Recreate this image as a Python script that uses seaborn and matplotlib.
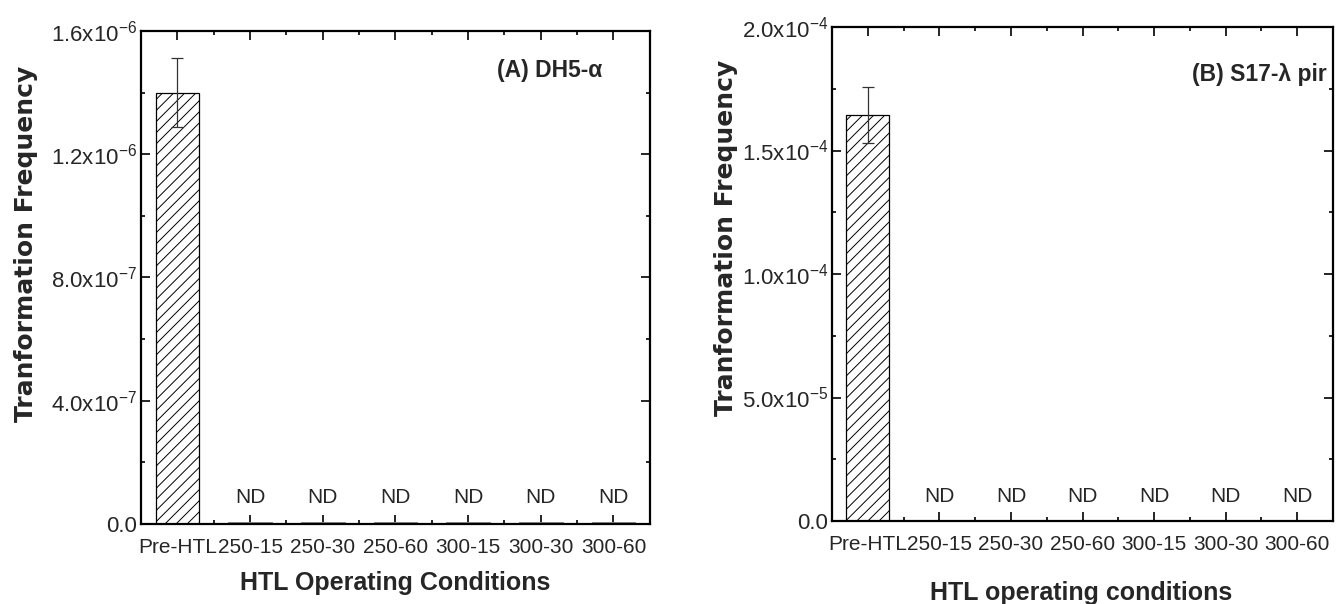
import matplotlib
matplotlib.use("Agg")
import matplotlib.pyplot as plt
import seaborn as sns
import numpy as np
import pandas as pd
from matplotlib.ticker import MultipleLocator, FuncFormatter, FixedLocator

# ---------------- data ----------------
categories = ["Pre-HTL", "250-15", "250-30", "250-60", "300-15", "300-30", "300-60"]
freq_a = [1.40e-6, 5e-9, 5e-9, 5e-9, 5e-9, 5e-9, 5e-9]
err_a = [1.12e-7, 0, 0, 0, 0, 0, 0]
freq_b = [1.645e-4, 0, 0, 0, 0, 0, 0]
err_b = [1.13e-5, 0, 0, 0, 0, 0, 0]
nd_labels = ["", "ND", "ND", "ND", "ND", "ND", "ND"]
yticks_a = [0, 4e-7, 8e-7, 1.2e-6, 1.6e-6]
yticks_b = [0, 5e-5, 1.0e-4, 1.5e-4, 2.0e-4]
title_a = "(A) DH5-\u03b1"
title_b = "(B) S17-\u03bb pir"
xlabel_a = "HTL Operating Conditions"
xlabel_b = "HTL operating conditions"
ylabel = "Tranformation Frequency"

sns.set_theme(style="ticks")
plt.rcParams["font.family"] = ["Liberation Sans", "DejaVu Sans"]
plt.rcParams["mathtext.fontset"] = "custom"
plt.rcParams["mathtext.rm"] = "Liberation Sans"
plt.rcParams["mathtext.it"] = "Liberation Sans:italic"
plt.rcParams["mathtext.bf"] = "Liberation Sans:bold"
plt.rcParams["hatch.linewidth"] = 0.7
plt.rcParams["hatch.color"] = "black"

fig = plt.figure(figsize=(13.39, 6.04), dpi=100)
ax_a = fig.add_axes([0.1053, 0.1325, 0.380, 0.8162])
ax_b = fig.add_axes([0.6214, 0.1374, 0.3741, 0.8179])


def sci_fmt(v, pos):
    if v == 0:
        return "0.0"
    e = int(np.floor(np.log10(abs(v)) + 1e-9))
    m = v / 10 ** e
    return r"%.1fx10$^{\mathregular{%d}}$" % (m, e)


def draw(ax, vals, errs, yticks, title, xlabel, ylab_xy, xlab_xy, title_xy):
    df = pd.DataFrame({"cond": categories, "val": vals})
    sns.barplot(data=df, x="cond", y="val", ax=ax, color="white",
                edgecolor="black", linewidth=0.9, width=0.6, errorbar=None,
                saturation=1)
    for i, p in enumerate(ax.patches):
        p.set_facecolor("white")
        if i == 0:
            p.set_hatch("///")
            p.set_edgecolor("black")
        else:
            p.set_edgecolor("#777777")
            p.set_linewidth(0.6)
    x = np.arange(len(categories))
    e = np.array(errs)
    mask = e > 0
    ax.errorbar(x[mask], np.array(vals)[mask], yerr=e[mask], fmt="none",
                ecolor="#333333", elinewidth=0.9, capsize=4, capthick=0.9)
    for i, lab in enumerate(nd_labels):
        if lab:
            ax.annotate(lab, (x[i], vals[i]), xytext=(0, 18),
                        textcoords="offset points", ha="center", va="center",
                        fontsize=15)
    ax.set_xlim(-0.5, len(categories) - 0.5)
    ax.set_ylim(yticks[0], yticks[-1])
    ax.yaxis.set_major_locator(FixedLocator(yticks))
    ax.yaxis.set_minor_locator(MultipleLocator((yticks[1] - yticks[0]) / 2))
    ax.yaxis.set_major_formatter(FuncFormatter(sci_fmt))
    ax.xaxis.set_minor_locator(MultipleLocator(0.5))
    ax.tick_params(which="both", direction="in", top=True, right=True,
                   width=1.2, color="black")
    ax.tick_params(which="major", length=6.5)
    ax.tick_params(which="minor", length=3)
    ax.tick_params(axis="y", labelsize=16, pad=3)
    ax.tick_params(axis="x", labelsize=15, pad=10)
    for s in ax.spines.values():
        s.set_linewidth(1.6)
        s.set_color("black")
    ax.set_xlabel(xlabel, fontsize=18, fontweight="bold")
    ax.xaxis.label.set_va("center")
    ax.xaxis.set_label_coords(*xlab_xy)
    ax.set_ylabel(ylabel, fontsize=18, fontweight="bold", family="DejaVu Sans")
    ax.yaxis.label.set_va("center")
    ax.yaxis.set_label_coords(*ylab_xy)
    ax.text(title_xy[0], title_xy[1], title, transform=ax.transAxes,
            ha="right", va="center", fontsize=16.5, fontweight="bold")
    ax.grid(False)


draw(ax_a, freq_a, err_a, yticks_a, title_a, xlabel_a, (-0.226, 0.568), (0.5, -0.12), (0.906, 0.919))
draw(ax_b, freq_b, err_b, yticks_b, title_b, xlabel_b, (-0.212, 0.573), (0.497, -0.146), (0.988, 0.903))

fig.savefig("out.png", dpi=100)
